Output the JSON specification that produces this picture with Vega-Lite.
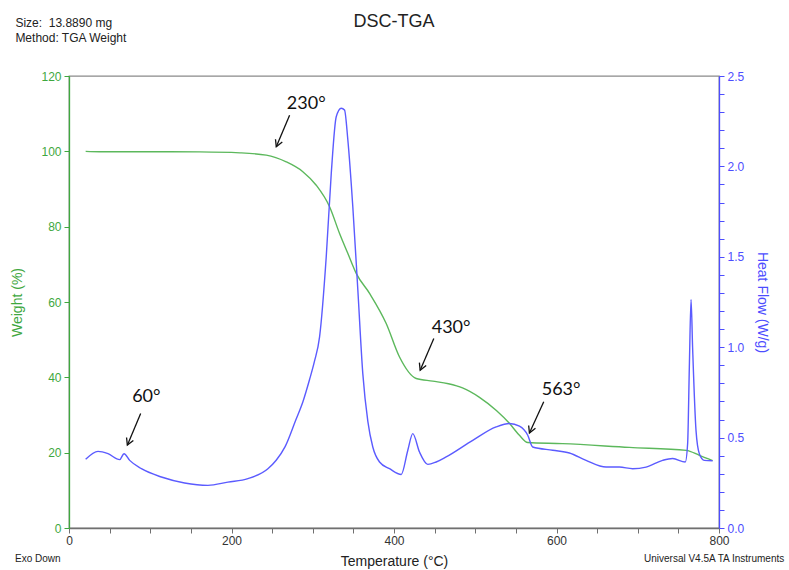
{
  "$schema": "https://vega.github.io/schema/vega-lite/v6.json",
  "width": 650,
  "height": 452,
  "autosize": {"type": "none"},
  "padding": {"left": 69, "top": 76, "right": 70, "bottom": 42},
  "background": "white",
  "config": {"view": {"stroke": "#8a8a8a", "strokeWidth": 1.3}, "font": "Liberation Sans"},
  "datasets": {
    "weight": [
      {"t": 20.5, "w": 100.0}, {"t": 37.8, "w": 99.9}, {"t": 100, "w": 99.9}, {"t": 160.8, "w": 99.85}, {"t": 210.5, "w": 99.6},
      {"t": 242.8, "w": 99.0}, {"t": 267.4, "w": 97.2}, {"t": 287.8, "w": 94.6}, {"t": 304.3, "w": 91.0}, {"t": 320.7, "w": 85.3},
      {"t": 333, "w": 78.2}, {"t": 343, "w": 73.0}, {"t": 353.5, "w": 67.6}, {"t": 369.9, "w": 62.3}, {"t": 390.4, "w": 54.3},
      {"t": 406.8, "w": 45.4}, {"t": 427.3, "w": 39.7}, {"t": 447.7, "w": 39.0}, {"t": 467, "w": 38.3}, {"t": 484.3, "w": 37.2},
      {"t": 505.2, "w": 34.7}, {"t": 526, "w": 31.2}, {"t": 542, "w": 27.8}, {"t": 554.4, "w": 24.6}, {"t": 564.6, "w": 22.7},
      {"t": 607.3, "w": 22.4}, {"t": 689.7, "w": 21.4}, {"t": 759.8, "w": 20.6}, {"t": 775.8, "w": 19.3}, {"t": 792.1, "w": 17.9}
    ],
    "heat": [
      {"t": 20.5, "h": 0.380}, {"t": 35.7, "h": 0.424}, {"t": 48, "h": 0.411}, {"t": 62.4, "h": 0.378}, {"t": 67.7, "h": 0.411},
      {"t": 74.7, "h": 0.374}, {"t": 89.1, "h": 0.328}, {"t": 113.7, "h": 0.282}, {"t": 142.3, "h": 0.249}, {"t": 171, "h": 0.236},
      {"t": 195.6, "h": 0.254}, {"t": 220.2, "h": 0.273}, {"t": 244.8, "h": 0.328}, {"t": 255, "h": 0.375}, {"t": 266, "h": 0.45},
      {"t": 279, "h": 0.596}, {"t": 288, "h": 0.70}, {"t": 296, "h": 0.82}, {"t": 302, "h": 0.92}, {"t": 308.4, "h": 1.057}, {"t": 316.6, "h": 1.50},
      {"t": 322.8, "h": 1.962}, {"t": 328.9, "h": 2.275}, {"t": 335.1, "h": 2.322}, {"t": 339.1, "h": 2.312}, {"t": 343.2, "h": 2.146},
      {"t": 349.3, "h": 1.777}, {"t": 355.5, "h": 1.316}, {"t": 361.6, "h": 0.854}, {"t": 367.8, "h": 0.59}, {"t": 373.9, "h": 0.448},
      {"t": 382.2, "h": 0.365}, {"t": 394.5, "h": 0.328}, {"t": 408.9, "h": 0.296}, {"t": 417, "h": 0.430}, {"t": 423.1, "h": 0.522},
      {"t": 431.4, "h": 0.42}, {"t": 441.6, "h": 0.352}, {"t": 451.9, "h": 0.365}, {"t": 464.2, "h": 0.393}, {"t": 496.9, "h": 0.485},
      {"t": 525.7, "h": 0.559}, {"t": 542.1, "h": 0.578}, {"t": 554.4, "h": 0.563}, {"t": 564.6, "h": 0.513}, {"t": 570.7, "h": 0.448},
      {"t": 595.3, "h": 0.430}, {"t": 615.9, "h": 0.415}, {"t": 636.4, "h": 0.374}, {"t": 661, "h": 0.337}, {"t": 677.4, "h": 0.337},
      {"t": 693.7, "h": 0.328}, {"t": 710.2, "h": 0.337}, {"t": 730.6, "h": 0.374}, {"t": 743, "h": 0.384}, {"t": 758.5, "h": 0.365},
      {"t": 761.4, "h": 0.467}, {"t": 763.5, "h": 0.891}, {"t": 765.6, "h": 1.264}, {"t": 767.5, "h": 1.0}, {"t": 771.7, "h": 0.540},
      {"t": 775.8, "h": 0.411}, {"t": 781.9, "h": 0.374}, {"t": 792.1, "h": 0.372}
    ],
    "notes": [
      {"label": "230°", "t": 292, "w": 112.6, "t1": 271.5, "w1": 109.6, "t2": 255.1, "w2": 101.2},
      {"label": "430°", "t": 470.3, "w": 53.2, "t1": 449, "w1": 50.3, "t2": 432.2, "w2": 41.9},
      {"label": "60°", "t": 95.2, "w": 34.8, "t1": 88.2, "w1": 30.4, "t2": 71.8, "w2": 22.0},
      {"label": "563°", "t": 605.7, "w": 36.6, "t1": 584.3, "w1": 33.5, "t2": 566.7, "w2": 25.2}
    ],
    "heading": [{"label": "DSC-TGA", "t": 400, "w": 133.0}],
    "metaTop": [
      {"label": "Size:\u00a0 13.8890 mg", "t": -66, "w": 133.1},
      {"label": "Method: TGA Weight", "t": -66, "w": 129.1}
    ],
    "metaLeft": [{"label": "Exo Down", "t": -66.4, "w": -8.9}],
    "metaRight": [{"label": "Universal V4.5A TA Instruments", "t": 880.3, "w": -8.9}]
  },
  "layer": [
    {
      "layer": [
        {
          "data": {"name": "weight"},
          "mark": {"type": "line", "color": "#5cb85c", "strokeWidth": 1.4, "interpolate": "monotone"},
          "encoding": {
            "x": {"field": "t", "type": "quantitative", "scale": {"domain": [0, 800], "nice": false},
              "axis": {"values": [0, 50, 100, 150, 200, 250, 300, 350, 400, 450, 500, 550, 600, 650, 700, 750, 800],
                "labelExpr": "datum.value % 200 === 0 ? datum.label : ''", "labelOverlap": false, "labelFlush": false,
                "title": "Temperature (°C)", "titleFontSize": 14, "titleFontWeight": "normal", "titleColor": "#222222", "titlePadding": 8,
                "labelFontSize": 12, "labelColor": "#333333", "labelPadding": 2, "tickSize": 5, "tickColor": "#707070",
                "domainColor": "#707070", "domainWidth": 1.3, "grid": false}},
            "y": {"field": "w", "type": "quantitative", "scale": {"domain": [0, 120], "nice": false},
              "axis": {"orient": "left", "values": [0, 5, 10, 15, 20, 25, 30, 35, 40, 45, 50, 55, 60, 65, 70, 75, 80, 85, 90, 95, 100, 105, 110, 115, 120],
                "labelExpr": "datum.value % 20 === 0 ? datum.label : ''", "labelOverlap": false, "labelFlush": false,
                "title": "Weight (%)", "titleFontSize": 14, "titleFontWeight": "normal", "titleColor": "#3fa83f", "titlePadding": 16,
                "labelFontSize": 12, "labelColor": "#3fa83f", "labelPadding": 3, "tickSize": 5, "tickColor": "#3fa83f",
                "domainColor": "#3fa83f", "domainWidth": 1.3, "grid": false}}
          }
        },
        {
          "data": {"name": "notes"},
          "mark": {"type": "rule", "color": "#111111", "strokeWidth": 1.3},
          "encoding": {
            "x": {"field": "t1", "type": "quantitative"},
            "y": {"field": "w1", "type": "quantitative"},
            "x2": {"field": "t2"},
            "y2": {"field": "w2"}
          }
        },
        {
          "data": {"name": "notes"},
          "mark": {"type": "point", "shape": "M-0.55,-1L0,0L0.55,-1", "angle": 23, "size": 180, "filled": false, "stroke": "#111111", "strokeWidth": 1.3, "opacity": 1},
          "encoding": {
            "x": {"field": "t2", "type": "quantitative"},
            "y": {"field": "w2", "type": "quantitative"}
          }
        },
        {
          "data": {"name": "notes"},
          "mark": {"type": "text", "font": "Lato", "fontSize": 18, "color": "#111111", "align": "center", "baseline": "middle"},
          "encoding": {
            "x": {"field": "t", "type": "quantitative"},
            "y": {"field": "w", "type": "quantitative"},
            "text": {"field": "label"}
          }
        },
        {
          "data": {"name": "heading"},
          "mark": {"type": "text", "fontSize": 18, "color": "#222222", "align": "center", "baseline": "alphabetic"},
          "encoding": {
            "x": {"field": "t", "type": "quantitative"},
            "y": {"field": "w", "type": "quantitative"},
            "text": {"field": "label"}
          }
        },
        {
          "data": {"name": "metaTop"},
          "mark": {"type": "text", "fontSize": 12, "color": "#222222", "align": "left", "baseline": "alphabetic"},
          "encoding": {
            "x": {"field": "t", "type": "quantitative"},
            "y": {"field": "w", "type": "quantitative"},
            "text": {"field": "label"}
          }
        },
        {
          "data": {"name": "metaLeft"},
          "mark": {"type": "text", "fontSize": 10, "color": "#222222", "align": "left", "baseline": "alphabetic"},
          "encoding": {
            "x": {"field": "t", "type": "quantitative"},
            "y": {"field": "w", "type": "quantitative"},
            "text": {"field": "label"}
          }
        },
        {
          "data": {"name": "metaRight"},
          "mark": {"type": "text", "fontSize": 10, "color": "#222222", "align": "right", "baseline": "alphabetic"},
          "encoding": {
            "x": {"field": "t", "type": "quantitative"},
            "y": {"field": "w", "type": "quantitative"},
            "text": {"field": "label"}
          }
        }
      ]
    },
    {
      "layer": [
        {
          "data": {"name": "heat"},
          "mark": {"type": "line", "color": "#5b5bff", "strokeWidth": 1.4, "interpolate": "monotone"},
          "encoding": {
            "x": {"field": "t", "type": "quantitative"},
            "y": {"field": "h", "type": "quantitative", "scale": {"domain": [0, 2.5], "nice": false},
              "axis": {"orient": "right", "values": [0, 0.1, 0.2, 0.3, 0.4, 0.5, 0.6, 0.7, 0.8, 0.9, 1.0, 1.1, 1.2, 1.3, 1.4, 1.5, 1.6, 1.7, 1.8, 1.9, 2.0, 2.1, 2.2, 2.3, 2.4, 2.5],
                "labelExpr": "round(datum.value * 10) % 5 === 0 ? format(datum.value, '.1f') : ''", "labelOverlap": false, "labelFlush": false,
                "title": "Heat Flow (W/g)", "titleFontSize": 14, "titleFontWeight": "normal", "titleColor": "#4d4dff", "titlePadding": 11,
                "labelFontSize": 12, "labelColor": "#4d4dff", "labelPadding": 3, "tickSize": 5, "tickColor": "#4d4dff",
                "domainColor": "#4d4dff", "domainWidth": 1.3, "grid": false}}
          }
        }
      ]
    }
  ],
  "resolve": {"scale": {"y": "independent"}}
}
